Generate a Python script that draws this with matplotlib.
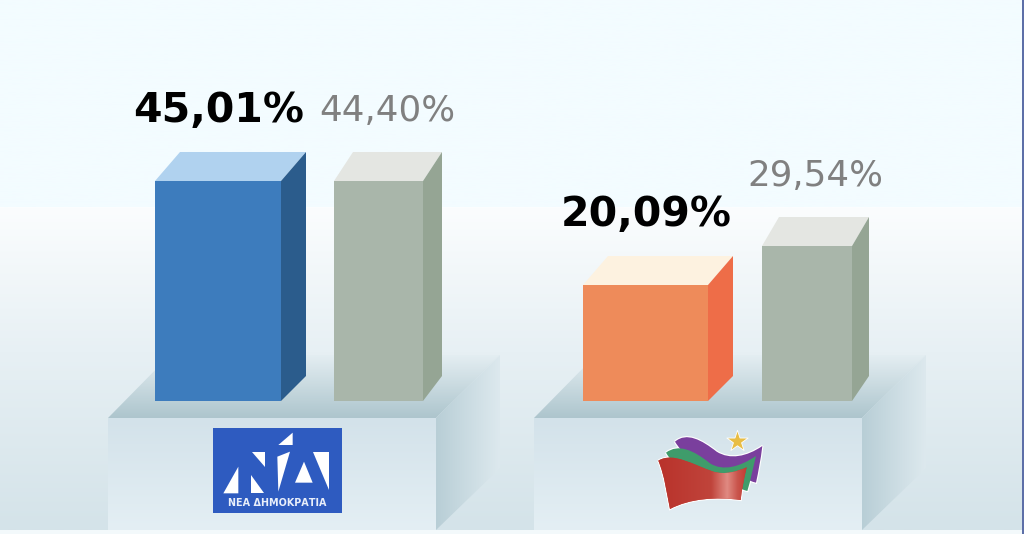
import matplotlib
matplotlib.use("Agg")
import matplotlib.pyplot as plt
import numpy as np
from matplotlib.colors import LinearSegmentedColormap
from matplotlib.patches import Polygon, PathPatch, Rectangle
from matplotlib.path import Path

# values
parties = ["ΝΔ", "ΣΥΡΙΖΑ"]
labels_now = ["45,01%", "20,09%"]
labels_before = ["44,40%", "29,54%"]
# drawn heights of the bars (it is not to scale)
heights_now = [220, 116]
heights_before = [220, 155]

colors_now = [("#3d7cbd", "#b0d2ef", "#2b5c8c"), ("#ee8b5a", "#fdf2e0", "#ee6d48")]
colors_before = ("#a9b6aa", "#e4e6e2", "#95a594")

W, H = 1024, 534
BASE = 401

fig = plt.figure(figsize=(W / 100, H / 100), dpi=100)

# pixel axes for the decoration
bg = fig.add_axes([0, 0, 1, 1])
bg.set_xlim(0, W)
bg.set_ylim(H, 0)
bg.axis("off")


def grad(ax, verts, stops, vertical=True):
    # filled polygon with a linear gradient
    verts = np.array(verts, dtype=float)
    x0, x1 = verts[:, 0].min(), verts[:, 0].max()
    y0, y1 = verts[:, 1].min(), verts[:, 1].max()
    cm = LinearSegmentedColormap.from_list("g", stops)
    g = np.linspace(0, 1, 256)
    g = g[:, None] if vertical else g[None, :]
    im = ax.imshow(g, cmap=cm, extent=(x0, x1, y1, y0), aspect="auto", zorder=1, vmin=0, vmax=1)
    p = Polygon(verts, closed=True, transform=ax.transData, fc="none", ec="none")
    ax.add_patch(p)
    im.set_clip_path(p)
    return im


# background
grad(bg, [(0, 0), (W, 0), (W, 207), (0, 207)], ["#f3fcff", "#f3fcff"])
grad(bg, [(0, 207), (W, 207), (W, 530), (0, 530)],
     [(0, "#fbfdfe"), (0.45, "#e7f0f4"), (1, "#d4e3e9")])
bg.add_patch(Rectangle((0, 530), W, 4, fc="#f3f9fb", ec="none", zorder=1))
bg.add_patch(Rectangle((1022, 0), 2, H, fc="#5d6fa8", ec="none", zorder=5))

# the two platforms under the bars
for left in [108, 534]:
    right = left + 328
    grad(bg, [(left + 62, 355), (right + 64, 355), (right, 418), (left, 418)],
         [(0, "#e4eef2"), (1, "#adc5cd")])
    grad(bg, [(left, 418), (right, 418), (right, 530), (left, 530)],
         [(0, "#d3e2ea"), (1, "#e4eff4")])
    grad(bg, [(right, 418), (right + 64, 355), (right + 64, 468), (right, 530)],
         ["#b8ced6", "#dde9ee"], vertical=False)

# New Democracy logo
bg.add_patch(Rectangle((213, 428), 129, 85, fc="#2e5bc0", ec="none", zorder=3))
nd_shapes = [
    [(100, 250), (145, 170), (145, 250)],
    [(185, 125), (225, 125), (225, 170)],
    [(182, 195), (182, 250), (222, 250)],
    [(262, 140), (300, 125), (265, 245)],
    [(265, 105), (308, 68), (308, 105)],
    [(315, 218), (342, 155), (368, 218)],
    [(370, 125), (418, 125), (418, 240)],
]
for s in nd_shapes:
    pts = [(190 + a / 3, 410 + b / 3) for a, b in s]
    bg.add_patch(Polygon(pts, closed=True, fc="white", ec="none", zorder=4))
bg.text(277.5, 503, "ΝΕΑ ΔΗΜΟΚΡΑΤΙΑ", color="#e8eefa", fontsize=6.9, fontweight="bold",
        ha="center", va="center", zorder=4)


# SYRIZA logo
def flag(points):
    # points: start, then triples of bezier control points, zoom crop coords
    pts = [(630 + a / 3, 410 + b / 3) for a, b in points]
    codes = [Path.MOVETO] + [Path.CURVE4] * (len(pts) - 1)
    return Path(pts, codes)


purple = flag([(135, 95), (170, 65), (215, 90), (260, 125), (300, 150), (350, 140), (397, 108),
               (392, 150), (385, 185), (378, 218), (365, 215), (355, 210), (345, 205),
               (280, 200), (180, 170), (135, 95)])
green = flag([(108, 128), (145, 100), (190, 120), (240, 160), (280, 185), (330, 170), (378, 138),
              (370, 170), (362, 210), (352, 243), (340, 240), (330, 235), (320, 230),
              (250, 230), (150, 200), (108, 128)])
red = flag([(85, 152), (130, 125), (190, 165), (250, 185), (285, 195), (320, 185), (350, 172),
            (342, 205), (335, 240), (332, 270), (260, 260), (180, 265), (120, 297),
            (110, 250), (105, 200), (85, 152)])
# white halo behind the three bands, then the bands
for path in [purple, green, red]:
    bg.add_patch(PathPatch(path, fc="white", ec="white", lw=1.6, zorder=2.9))
for path, col in [(purple, "#7a3f9d"), (green, "#3f9c6b")]:
    bg.add_patch(PathPatch(path, fc=col, ec="none", zorder=3))
bg.add_patch(PathPatch(red, fc="#bd3a32", ec="none", zorder=3.2))
cm_red = LinearSegmentedColormap.from_list(
    "r", [(0, "#b9322b"), (0.6, "#c0443b"), (0.78, "#e08a82"), (0.9, "#c9544b"), (1, "#c23b33")])
im = bg.imshow(np.linspace(0, 1, 200)[None, :], cmap=cm_red,
               extent=(658, 747, 510, 450), aspect="auto", zorder=3.5)
clip = PathPatch(red, fc="none", ec="none", transform=bg.transData)
bg.add_patch(clip)
im.set_clip_path(clip)
bg.scatter([737], [441], marker="*", s=260, c="#e8bd45", edgecolors="white", linewidths=0.6, zorder=4)

bg.set_xlim(0, W)
bg.set_ylim(H, 0)

# bars
ax = fig.add_axes([0, 0, 1, 1], facecolor="none")
ax.set_xlim(0, W)
ax.set_ylim(BASE - H, BASE)
ax.axis("off")


def bar3d(left, width, height, cols, dx, dy=29):
    front, top, side = cols
    ax.bar(left, height, width=width, align="edge", color=front, zorder=3)
    r = left + width
    ax.add_patch(Polygon([(left, height), (left + dx, height + dy), (r + dx, height + dy), (r, height)],
                         closed=True, fc=top, ec="none", zorder=3))
    ax.add_patch(Polygon([(r, 0), (r + dx, dy - 4), (r + dx, height + dy), (r, height)],
                         closed=True, fc=side, ec="none", zorder=3))


bar3d(155, 126, heights_now[0], colors_now[0], 25)
bar3d(334, 89, heights_before[0], colors_before, 19)
bar3d(583, 125, heights_now[1], colors_now[1], 25)
bar3d(762, 90, heights_before[1], colors_before, 17)

# labels
now_pos = [(218.5, BASE - 122), (646, BASE - 226)]
before_pos = [(387, BASE - 121), (815, BASE - 186)]
for s, (x, y) in zip(labels_now, now_pos):
    ax.text(x, y, s, color="black", fontsize=29.5, fontweight="bold", ha="center", va="baseline", zorder=6)
for s, (x, y) in zip(labels_before, before_pos):
    ax.text(x, y, s, color="#808080", fontsize=25.7, ha="center", va="baseline", zorder=6)

fig.savefig("out.png", dpi=100)
